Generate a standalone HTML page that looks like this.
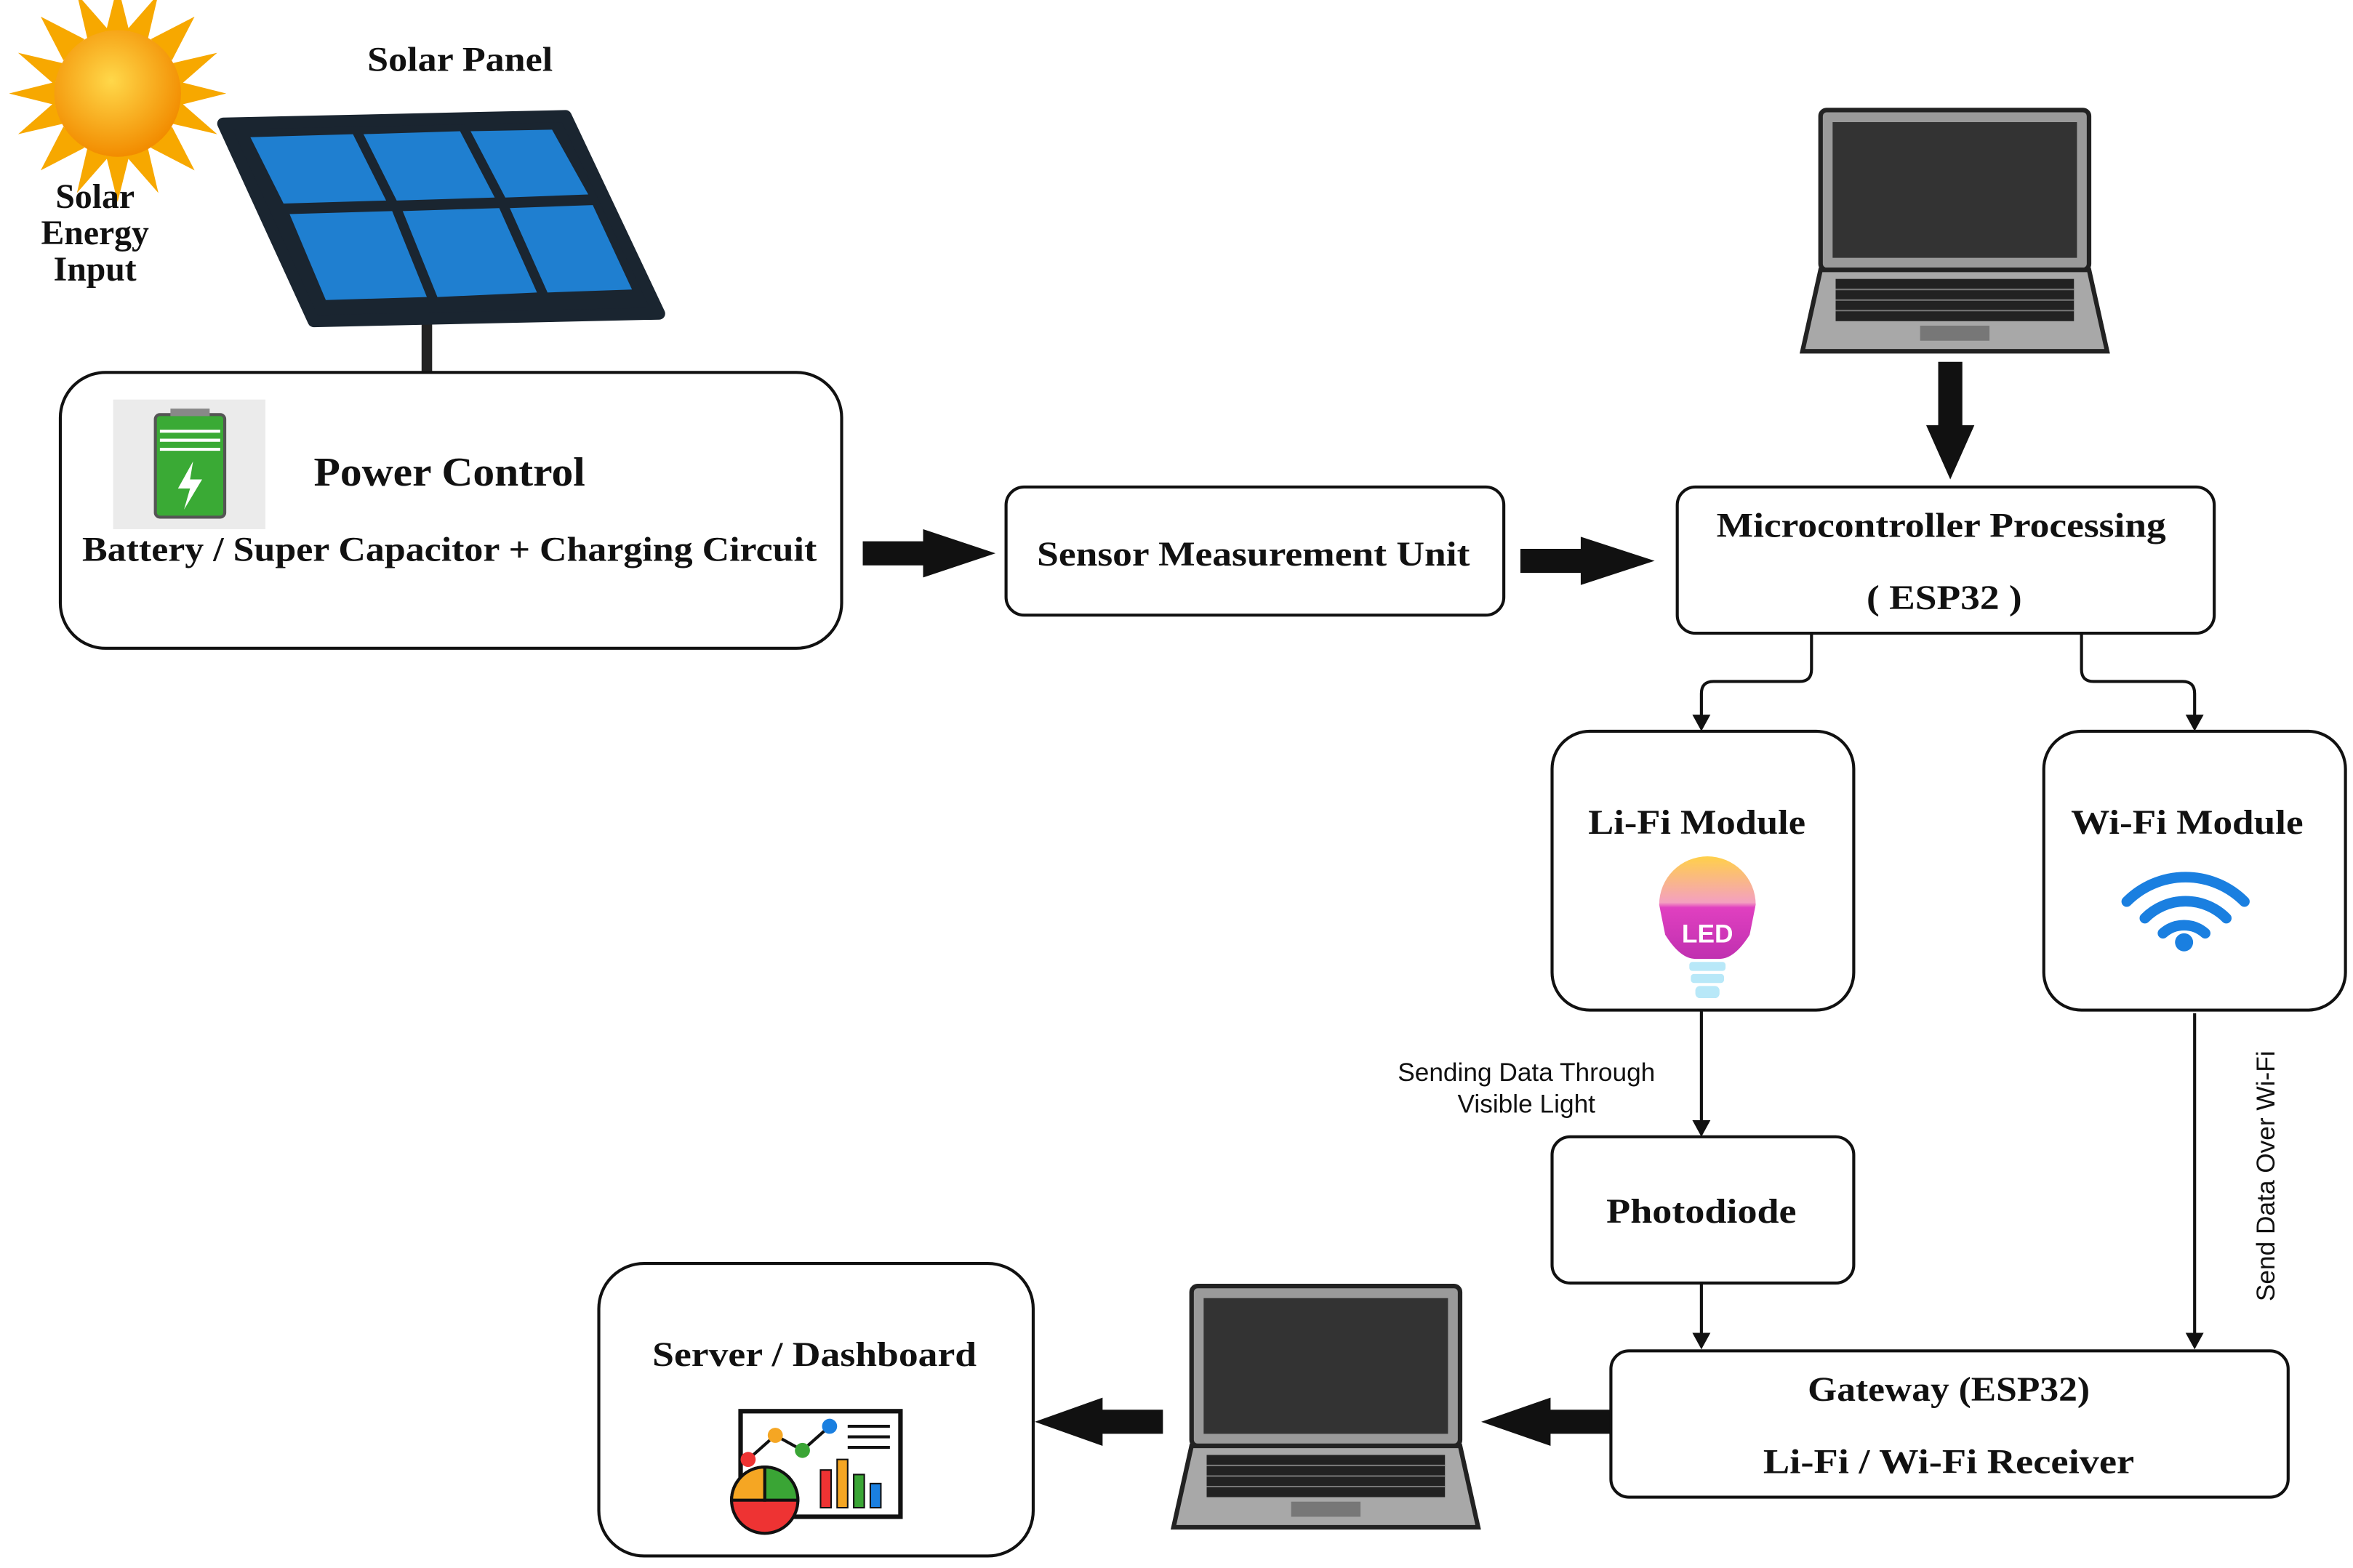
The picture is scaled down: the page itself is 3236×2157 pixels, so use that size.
<!DOCTYPE html>
<html><head><meta charset="utf-8"><style>
html,body{margin:0;padding:0;background:#fff;}
svg{display:block;}
.s{font-family:"Liberation Serif",serif;font-weight:bold;fill:#111;text-anchor:middle;}
.a{font-family:"Liberation Sans",sans-serif;fill:#111;text-anchor:middle;}
</style></head><body>
<svg width="3236" height="2157" viewBox="0 0 1560 1040" preserveAspectRatio="none" xmlns="http://www.w3.org/2000/svg">
<defs>
<radialGradient id="sun" cx="0.45" cy="0.4" r="0.6"><stop offset="0" stop-color="#ffd84a"/><stop offset="1" stop-color="#f28c00"/></radialGradient>
<linearGradient id="bulb" x1="0" y1="0" x2="0" y2="1"><stop offset="0" stop-color="#ffd04a"/><stop offset="0.45" stop-color="#f4a0c0"/><stop offset="0.5" stop-color="#e040c0"/><stop offset="1" stop-color="#c030b0"/></linearGradient>
<g id="laptop">
<rect x="12" y="0" width="178" height="106" rx="4" fill="#9a9a9a" stroke="#222" stroke-width="3"/>
<rect x="20" y="8" width="162" height="90" fill="#333"/>
<path d="M12,106 L190,106 L202,160 L0,160 Z" fill="#a8a8a8" stroke="#222" stroke-width="3"/>
<rect x="22" y="112" width="158" height="28" fill="#222"/>
<g stroke="#777" stroke-width="1"><line x1="22" y1="119" x2="180" y2="119"/><line x1="22" y1="126" x2="180" y2="126"/><line x1="22" y1="133" x2="180" y2="133"/></g>
<rect x="78" y="143" width="46" height="10" fill="#777"/>
</g>
</defs>

<!-- sun -->
<g transform="translate(78,62)">
<g fill="#f7a800">
<path d="M0,-72 L8,-40 L-8,-40Z"/><path d="M0,72 L8,40 L-8,40Z"/><path d="M-72,0 L-40,8 L-40,-8Z"/><path d="M72,0 L40,8 L40,-8Z"/>
<path d="M-51,-51 L-22,-36 L-36,-22Z"/><path d="M51,51 L22,36 L36,22Z"/><path d="M51,-51 L36,-22 L22,-36Z"/><path d="M-51,51 L-36,22 L-22,36Z"/>
<path d="M-27,-66 L-6,-42 L-20,-36Z"/><path d="M27,-66 L20,-36 L6,-42Z"/><path d="M-27,66 L-20,36 L-6,42Z"/><path d="M27,66 L6,42 L20,36Z"/>
<path d="M-66,-27 L-36,-20 L-42,-6Z"/><path d="M-66,27 L-42,6 L-36,20Z"/><path d="M66,-27 L42,-6 L36,-20Z"/><path d="M66,27 L36,20 L42,6Z"/>
</g>
<circle r="42" fill="url(#sun)"/>
</g>
<text class="s" x="63" y="138" font-size="23">Solar</text>
<text class="s" x="63" y="162" font-size="23">Energy</text>
<text class="s" x="63" y="186" font-size="23">Input</text>
<text class="s" x="305" y="47" font-size="23" textLength="123" lengthAdjust="spacingAndGlyphs">Solar Panel</text>

<!-- panel -->
<line x1="283" y1="212" x2="283" y2="247" stroke="#222" stroke-width="7"/>
<path d="M148,82 L375,77 L437,208 L208,213 Z" fill="#1a2530" stroke="#1a2530" stroke-width="8" stroke-linejoin="round"/>
<g fill="#1f7fd0">
<path d="M166,91 L234,89 L256,133 L188,135Z"/><path d="M241,89 L305,87 L328,131 L263,133Z"/><path d="M312,87 L366,86 L390,129 L335,131Z"/>
<path d="M192,142 L260,140 L283,197 L216,199Z"/><path d="M267,140 L331,138 L356,194 L290,197Z"/><path d="M338,138 L393,136 L419,192 L363,194Z"/>
</g>

<!-- power control -->
<rect x="40" y="247" width="518" height="183" rx="30" fill="#fff" stroke="#111" stroke-width="2"/>
<rect x="75" y="265" width="101" height="86" fill="#ebebeb"/>
<rect x="103" y="275" width="46" height="68" rx="3" fill="#3aaa35" stroke="#555" stroke-width="2"/>
<rect x="113" y="271" width="26" height="5" fill="#888"/>
<g stroke="#fff" stroke-width="2"><line x1="106" y1="286" x2="146" y2="286"/><line x1="106" y1="292" x2="146" y2="292"/><line x1="106" y1="298" x2="146" y2="298"/></g>
<path d="M128,306 L118,324 L126,324 L122,338 L134,318 L126,318Z" fill="#fff"/>
<text class="s" x="298" y="322" font-size="27" textLength="180" lengthAdjust="spacingAndGlyphs">Power Control</text>
<text class="s" x="298" y="372" font-size="23" textLength="487" lengthAdjust="spacingAndGlyphs">Battery / Super Capacitor + Charging Circuit</text>

<!-- thick arrows -->
<path d="M572,359 L612,359 L612,351 L660,367 L612,383 L612,375 L572,375Z" fill="#111"/>
<path d="M1008,364 L1048,364 L1048,356 L1097,372 L1048,388 L1048,380 L1008,380Z" fill="#111"/>
<path d="M1285,240 L1301,240 L1301,282 L1309,282 L1293,318 L1277,282 L1285,282Z" fill="#111"/>
<path d="M1068,935 L1028,935 L1028,927 L982,943 L1028,959 L1028,951 L1068,951Z" fill="#111"/>
<path d="M771,935 L731,935 L731,927 L686,943 L731,959 L731,951 L771,951Z" fill="#111"/>

<!-- sensor -->
<rect x="667" y="323" width="330" height="85" rx="12" fill="#fff" stroke="#111" stroke-width="2"/>
<text class="s" x="831" y="375" font-size="23" textLength="287" lengthAdjust="spacingAndGlyphs">Sensor Measurement Unit</text>

<!-- micro -->
<rect x="1112" y="323" width="356" height="97" rx="12" fill="#fff" stroke="#111" stroke-width="2"/>
<text class="s" x="1287" y="356" font-size="23" textLength="298" lengthAdjust="spacingAndGlyphs">Microcontroller Processing</text>
<text class="s" x="1289" y="404" font-size="23" textLength="103" lengthAdjust="spacingAndGlyphs">( ESP32 )</text>

<use href="#laptop" x="1195" y="73"/>
<use href="#laptop" x="778" y="853"/>

<!-- connectors -->
<g fill="none" stroke="#111" stroke-width="2">
<path d="M1201,420 L1201,444 Q1201,452 1193,452 L1136,452 Q1128,452 1128,460 L1128,476"/>
<path d="M1380,420 L1380,444 Q1380,452 1388,452 L1447,452 Q1455,452 1455,460 L1455,476"/>
<line x1="1128" y1="670" x2="1128" y2="745"/>
<line x1="1128" y1="851" x2="1128" y2="886"/>
<line x1="1455" y1="672" x2="1455" y2="886"/>
</g>
<g fill="#111">
<path d="M1122,474 L1134,474 L1128,485Z"/><path d="M1449,474 L1461,474 L1455,485Z"/>
<path d="M1122,743 L1134,743 L1128,754Z"/><path d="M1122,884 L1134,884 L1128,895Z"/><path d="M1449,884 L1461,884 L1455,895Z"/>
</g>

<!-- Li-Fi -->
<rect x="1029" y="485" width="200" height="185" rx="25" fill="#fff" stroke="#111" stroke-width="2"/>
<text class="s" x="1125" y="553" font-size="23" textLength="144" lengthAdjust="spacingAndGlyphs">Li-Fi Module</text>
<path d="M1100,600 A32,32 0 1 1 1164,600 L1160,620 Q1150,636 1140,636 L1124,636 Q1114,636 1104,620Z" fill="url(#bulb)"/>
<text x="1132" y="625" font-family="Liberation Sans,sans-serif" font-weight="bold" font-size="17" fill="#fff" text-anchor="middle">LED</text>
<g fill="#b8e8f8"><rect x="1120" y="638" width="24" height="6" rx="2"/><rect x="1121" y="646" width="22" height="6" rx="2"/><rect x="1124" y="654" width="16" height="8" rx="3"/></g>

<!-- Wi-Fi -->
<rect x="1355" y="485" width="200" height="185" rx="25" fill="#fff" stroke="#111" stroke-width="2"/>
<text class="s" x="1450" y="553" font-size="23" textLength="154" lengthAdjust="spacingAndGlyphs">Wi-Fi Module</text>
<g fill="none" stroke="#1a7fe0" stroke-width="7" stroke-linecap="round">
<path d="M1410,598 A55,55 0 0 1 1488,598"/><path d="M1422,609 A38,38 0 0 1 1476,609"/><path d="M1434,619 A21,21 0 0 1 1462,619"/>
</g>
<circle cx="1448" cy="625" r="6" fill="#1a7fe0"/>

<text class="a" x="1012" y="717" font-size="17">Sending Data Through</text>
<text class="a" x="1012" y="738" font-size="17">Visible Light</text>
<text class="a" font-size="17" transform="translate(1508,780) rotate(-90)">Send Data Over Wi-Fi</text>

<!-- Photodiode -->
<rect x="1029" y="754" width="200" height="97" rx="12" fill="#fff" stroke="#111" stroke-width="2"/>
<text class="s" x="1128" y="811" font-size="23" textLength="126" lengthAdjust="spacingAndGlyphs">Photodiode</text>

<!-- Gateway -->
<rect x="1068" y="896" width="449" height="97" rx="12" fill="#fff" stroke="#111" stroke-width="2"/>
<text class="s" x="1292" y="929" font-size="23" textLength="187" lengthAdjust="spacingAndGlyphs">Gateway (ESP32)</text>
<text class="s" x="1292" y="977" font-size="23" textLength="246" lengthAdjust="spacingAndGlyphs">Li-Fi / Wi-Fi  Receiver</text>

<!-- Server -->
<rect x="397" y="838" width="288" height="194" rx="30" fill="#fff" stroke="#111" stroke-width="2"/>
<text class="s" x="540" y="906" font-size="23" textLength="215" lengthAdjust="spacingAndGlyphs">Server / Dashboard</text>
<rect x="491" y="936" width="106" height="70" fill="#fff" stroke="#111" stroke-width="3"/>
<polyline points="496,968 514,952 532,962 550,946" fill="none" stroke="#111" stroke-width="2"/>
<circle cx="496" cy="968" r="5" fill="#e33"/><circle cx="514" cy="952" r="5" fill="#f5a623"/><circle cx="532" cy="962" r="5" fill="#3aa535"/><circle cx="550" cy="946" r="5" fill="#1a7fe0"/>
<g stroke="#111" stroke-width="2"><line x1="562" y1="946" x2="590" y2="946"/><line x1="562" y1="953" x2="590" y2="953"/><line x1="562" y1="960" x2="590" y2="960"/></g>
<rect x="544" y="975" width="7" height="25" fill="#e33" stroke="#111"/><rect x="555" y="968" width="7" height="32" fill="#f5a623" stroke="#111"/><rect x="566" y="978" width="7" height="22" fill="#3aa535" stroke="#111"/><rect x="577" y="984" width="7" height="16" fill="#1a7fe0" stroke="#111"/>
<circle cx="507" cy="995" r="22" fill="#e33" stroke="#111" stroke-width="2"/>
<path d="M507,995 L507,973 A22,22 0 0 1 529,995Z" fill="#3aa535" stroke="#111" stroke-width="2"/>
<path d="M507,995 L485,995 A22,22 0 0 1 507,973Z" fill="#f5a623" stroke="#111" stroke-width="2"/>
</svg>
</body></html>
